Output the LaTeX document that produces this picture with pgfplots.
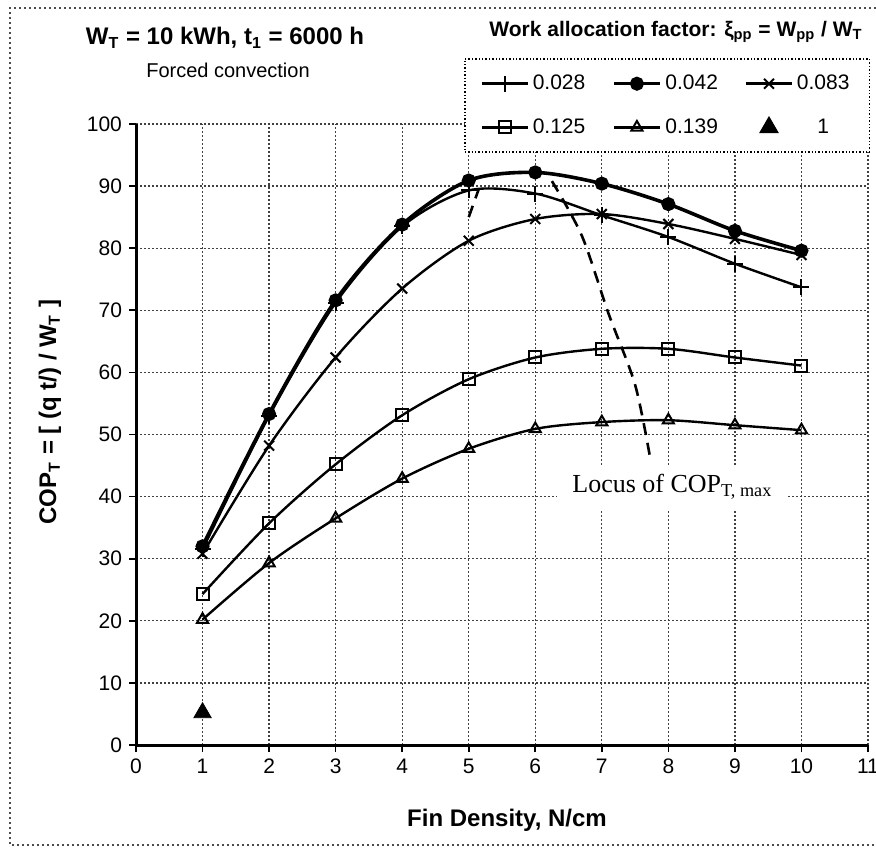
\documentclass[border=0pt]{standalone}
\usepackage{fontspec}
\setmainfont{Liberation Sans}
\newfontfamily\seriffont{Liberation Serif}
\usepackage{pgfplots}
\pgfplotsset{compat=1.18}
\begin{document}
\begin{tikzpicture}
\useasboundingbox (-68pt,-53pt) rectangle (370pt,372.5pt);
\begin{axis}[
  at={(0pt,0pt)}, anchor=south west,
  scale only axis, width=366pt, height=310.5pt,
  xmin=0, xmax=11, ymin=0, ymax=100,
  xtick={0,1,...,11}, ytick={0,10,...,100},
  axis x line=bottom, axis y line=left,
  axis line style={-, line width=1.5pt},
  tick align=outside, major tick length=3.5pt,
  tick style={black, line width=0.8pt},
  grid=major,
  major grid style={black!75, line width=0.6pt, dash pattern=on 1pt off 1pt},
  ticklabel style={font=\fontsize{10.5}{12}\selectfont},
  /pgf/number format/assume math mode=true,
  legend columns=3,
  legend style={at={(1.003,1.106)}, anchor=north east, draw=black, densely dotted,
    line width=0.7pt, fill=white, font=\fontsize{10.5}{12}\selectfont,
    /tikz/every even column/.append style={column sep=11.5pt},
    row sep=9pt, inner xsep=8pt, inner ysep=6pt},
  legend image post style={solid},
  legend image code/.code={\draw[mark repeat=2,mark phase=2] plot coordinates {(0cm,0cm) (0.4cm,0cm) (0.8cm,0cm)};},
]
% 0.028
\addplot[black, line width=1.2pt, smooth, mark=+, mark size=4pt, mark options={solid, line width=1pt}]
  coordinates {(1,31.5) (2,53) (3,71.2) (4,83.5) (5,89.3) (6,88.8) (7,85.3) (8,81.8) (9,77.5) (10,73.7)};
\addlegendentry{0.028}
% 0.042
\addplot[black, line width=1.8pt, smooth, mark=*, mark size=2.6pt, mark options={solid}]
  coordinates {(1,32) (2,53.3) (3,71.6) (4,83.8) (5,90.9) (6,92.2) (7,90.4) (8,87.1) (9,82.8) (10,79.6)};
\addlegendentry{0.042}
% 0.083
\addplot[black, line width=1.2pt, smooth, mark=x, mark size=3.5pt, mark options={solid, line width=1pt}]
  coordinates {(1,30.8) (2,48.2) (3,62.4) (4,73.5) (5,81.2) (6,84.7) (7,85.5) (8,83.9) (9,81.5) (10,78.9)};
\addlegendentry{0.083}
% 0.125
\addplot[black, line width=1.2pt, smooth, mark=square, mark size=3pt, mark options={solid, fill=white, line width=1pt}]
  coordinates {(1,24.3) (2,35.7) (3,45.2) (4,53.1) (5,58.9) (6,62.4) (7,63.8) (8,63.8) (9,62.4) (10,61.1)};
\addlegendentry{0.125}
% 0.139
\addplot[black, line width=1.2pt, smooth, mark=triangle, mark size=3.2pt, mark options={solid, fill=white, line width=1pt}]
  coordinates {(1,20.2) (2,29.3) (3,36.5) (4,42.9) (5,47.7) (6,50.9) (7,52) (8,52.3) (9,51.5) (10,50.7)};
\addlegendentry{0.139}
% 1
\addplot[black, only marks, mark=triangle*, mark size=5pt]
  coordinates {(1,5.2)};
\addlegendentry{1}
% locus of COP_T,max
\addplot[black, line width=1.3pt, dash pattern=on 6pt off 4pt, smooth, forget plot]
  coordinates {(6.25,90.8) (6.7,82) (7.1,69.5) (7.5,58) (7.73,46)};
\addplot[black, line width=1.3pt, dash pattern=on 6pt off 4pt, forget plot]
  coordinates {(5.0,85) (5.15,89.5)};
\end{axis}
\node[anchor=west, fill=white, inner xsep=7.5pt, inner ysep=5pt, font=\seriffont\fontsize{13}{15}\selectfont] at (210.5pt,129pt) {Locus of COP\textsubscript{T, max}};
\node[font=\bfseries\fontsize{12}{14}\selectfont] at (44.5pt,353.5pt) {W\textsubscript{T} = 10 kWh, t\textsubscript{1} = 6000 h};
\node[font=\fontsize{10}{12}\selectfont] at (46pt,337.5pt) {Forced convection};
\node[font=\bfseries\fontsize{10.5}{12}\selectfont] at (270pt,356.5pt) {Work allocation factor: ξ\textsubscript{pp} = W\textsubscript{pp} / W\textsubscript{T}};
\node[rotate=90, font=\bfseries\fontsize{12}{14}\selectfont] at (-43pt,166.5pt) {COP\textsubscript{T} = [ (q t/) / W\textsubscript{T} ]};
\node[font=\bfseries\fontsize{12}{14}\selectfont] at (185.5pt,-37.5pt) {Fin Density, N/cm};
\draw[black!70, line width=0.7pt, dash pattern=on 1pt off 1.5pt] (370pt,368.5pt) -- (-63pt,368.5pt) -- (-63pt,-50pt) -- (370pt,-50pt);
\end{tikzpicture}
\end{document}
